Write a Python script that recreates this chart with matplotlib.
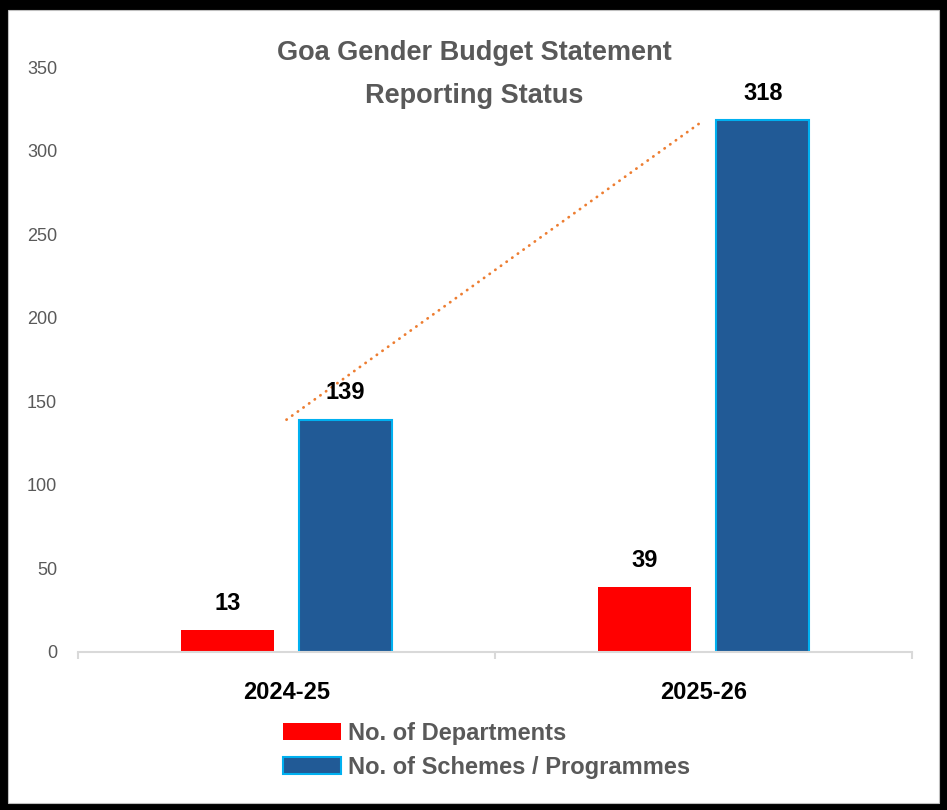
import matplotlib.pyplot as plt
from matplotlib.patches import Rectangle

# ----------------------------------------------------
# Data
# ----------------------------------------------------

years = ["2024-25", "2025-26"]
departments = [13, 39]
schemes = [139, 318]

series_names = ["No. of Departments", "No. of Schemes / Programmes"]

plt.rcParams["font.family"] = ["Liberation Sans", "DejaVu Sans"]

# ----------------------------------------------------
# Figure with black frame
# ----------------------------------------------------

fig = plt.figure(figsize=(9.47, 8.10), dpi=100, facecolor="black")
W, H = 947, 810
fig.patches.append(
    Rectangle(
        (8 / W, 7 / H),
        (939 - 8) / W,
        (803 - 10) / H,
        transform=fig.transFigure,
        facecolor="white",
        edgecolor="#bfbfbf",
        linewidth=0.8,
        zorder=-5,
    )
)

ax = fig.add_axes([78 / W, (810 - 652) / H, (912 - 78) / W, (652 - 67) / H])
ax.set_facecolor("none")
ax.set_zorder(2)

x = list(range(len(years)))
offset = 0.142
width = 0.224

red_bars = ax.bar(
    [i - offset for i in x],
    departments,
    width,
    color="#ff0000",
    label=series_names[0],
    zorder=2,
)

blue_bars = ax.bar(
    [i + offset for i in x],
    schemes,
    width,
    color="#215a96",
    edgecolor="#00b0f0",
    linewidth=1.5,
    label=series_names[1],
    zorder=2,
)

# linear trend of schemes
ax.plot(
    x,
    schemes,
    color="#ed7d31",
    linewidth=2.0,
    linestyle=(0, (0.1, 2.4)),
    dash_capstyle="round",
    zorder=3,
)

# data labels
for bars, vals in ((red_bars, departments), (blue_bars, schemes)):
    for b, v in zip(bars, vals):
        ax.annotate(
            str(v),
            (b.get_x() + b.get_width() / 2, v),
            xytext=(0, 11),
            textcoords="offset points",
            ha="center",
            va="bottom",
            fontsize=17,
            fontweight="bold",
            color="black",
            zorder=4,
        )

# ----------------------------------------------------
# Axes styling
# ----------------------------------------------------

ax.set_xlim(-0.5, 1.5)
ax.set_ylim(0, 350)
ax.set_yticks(range(0, 351, 50))
ax.tick_params(axis="y", length=0, pad=15, labelsize=13, labelcolor="#595959")

ax.set_xticks([-0.5, 0.5, 1.5])
ax.set_xticklabels([])
ax.set_xticks(x, minor=True)
ax.set_xticklabels(years, minor=True, fontsize=17, fontweight="bold")
ax.tick_params(axis="x", which="major", length=5, width=1.5, color="#d9d9d9")
ax.tick_params(axis="x", which="minor", length=0, pad=21)

for side in ("left", "right", "top"):
    ax.spines[side].set_visible(False)
ax.spines["bottom"].set_color("#d9d9d9")
ax.spines["bottom"].set_linewidth(1.5)

# ----------------------------------------------------
# Title and legend
# ----------------------------------------------------

fig.text(0.501, 1 - 53 / H, "Goa Gender Budget Statement",
         ha="center", va="center", fontsize=19.5, fontweight="bold", color="#595959")
fig.text(0.501, 1 - 96 / H, "Reporting Status",
         ha="center", va="center", fontsize=19.5, fontweight="bold", color="#595959")

fig.legend(
    handles=[red_bars, blue_bars],
    labels=series_names,
    loc="upper left",
    bbox_to_anchor=(283 / W, (810 - 722) / H),
    frameon=False,
    borderpad=0,
    borderaxespad=0,
    handlelength=2.46,
    handleheight=0.72,
    handletextpad=0.3,
    labelspacing=0.45,
    prop={"size": 17, "weight": "bold"},
    labelcolor="#595959",
)

fig.savefig("out.png", dpi=100, facecolor="black")
